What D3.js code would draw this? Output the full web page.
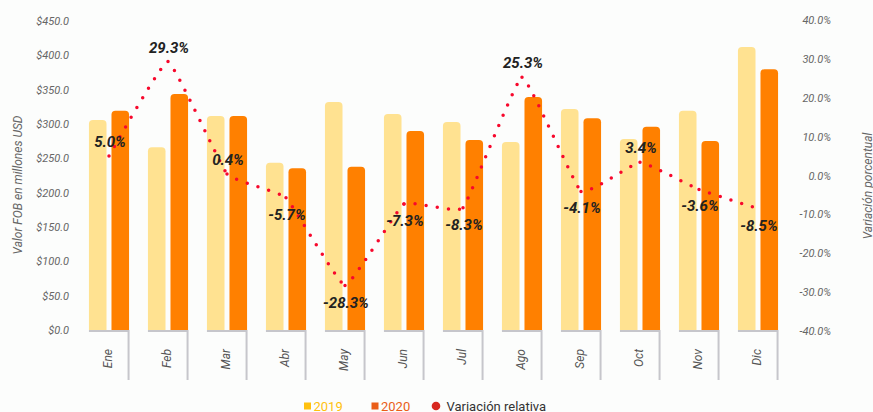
<!DOCTYPE html>
<html>
<head>
<meta charset="utf-8">
<script src="https://cdn.jsdelivr.net/npm/d3@7"></script>
<style>
  html, body { margin: 0; padding: 0; background: #fcfdfc; }
  svg { display: block; font-family: Roboto, "Noto Sans", sans-serif; }
</style>
</head>
<body>
<svg id="chart" width="873" height="412"></svg>
<script>
const months = ['Ene','Feb','Mar','Abr','May','Jun','Jul','Ago','Sep','Oct','Nov','Dic'];
const seriesNames = ['2019','2020'];
const values2019 = [305.8, 266.0, 311.7, 243.6, 332.0, 314.6, 303.0, 273.8, 321.8, 278.2, 319.4, 412.1];
const values2020 = [319.4, 343.7, 311.7, 235.5, 237.8, 289.8, 276.7, 339.3, 308.3, 296.0, 275.2, 379.7];
const variation = [5.0, 29.3, 0.4, -5.7, -28.3, -7.3, -8.3, 25.3, -4.1, 3.4, -3.6, -8.5];
const leftTicks = [0, 50, 100, 150, 200, 250, 300, 350, 400, 450];
const rightTicks = [-40, -30, -20, -10, 0, 10, 20, 30, 40];
const legendLabels = ['2019', '2020', 'Variación relativa'];

(function () {
const barColors = {'2019': '#ffe291', '2020': '#ff8000'};
const legendColors = ['#ffc10f', '#ea5e18', '#d8281f'];
const lineColor = '#f7082c';

const svg = d3.select('#chart');
const plotTop = 21, plotBottom = 330;

const x = d3.scaleBand().domain(months).range([79.5, 787.5]).paddingInner(0.32).paddingOuter(0.16);
const xs = d3.scaleBand().domain(seriesNames).range([0, x.bandwidth()]).paddingInner(0.22);
const y = d3.scaleLinear().domain([0, 450]).range([plotBottom, plotTop]);
const yR = d3.scaleLinear().domain([-40, 40]).range([plotBottom + 1, plotTop - 1]);

// left axis
const gl = svg.append('g').attr('transform', 'translate(69,0)')
  .call(d3.axisLeft(y).tickValues(leftTicks).tickSize(0).tickPadding(0).tickFormat(d => '$' + d.toFixed(1)));
gl.select('.domain').remove();
gl.selectAll('text').attr('font-size', 11).attr('font-style', 'italic').attr('fill', '#666')
  .attr('font-family', 'Roboto');

// right axis
const gr = svg.append('g').attr('transform', 'translate(831,0)')
  .call(d3.axisRight(yR).tickValues(rightTicks).tickSize(0).tickPadding(0).tickFormat(d => d.toFixed(1) + '%'));
gr.select('.domain').remove();
gr.selectAll('text').attr('text-anchor', 'end').attr('x', 0).attr('font-size', 11)
  .attr('font-style', 'italic').attr('fill', '#666').attr('font-family', 'Roboto');

// axis titles
svg.append('text').attr('transform', 'translate(17.5,185) rotate(-90)')
  .attr('text-anchor', 'middle').attr('dominant-baseline', 'central')
  .attr('font-size', 12).attr('font-style', 'italic').attr('fill', '#666')
  .text('Valor FOB en millones USD');
svg.append('text').attr('transform', 'translate(867.5,186) rotate(-90)')
  .attr('text-anchor', 'middle').attr('dominant-baseline', 'central')
  .attr('font-size', 12).attr('font-style', 'italic').attr('fill', '#666')
  .text('Variación porcentual');

// bars
function topRounded(x0, y0, w, h, r) {
  r = Math.min(r, w / 2, h);
  return `M${x0},${y0 + h}V${y0 + r}Q${x0},${y0} ${x0 + r},${y0}H${x0 + w - r}Q${x0 + w},${y0} ${x0 + w},${y0 + r}V${y0 + h}Z`;
}
const rows = months.map((m, i) => ({month: m, vals: [{s: '2019', v: values2019[i]}, {s: '2020', v: values2020[i]}]}));
const groups = svg.append('g').selectAll('g').data(rows).join('g')
  .attr('transform', d => `translate(${x(d.month)},0)`);
groups.selectAll('path').data(d => d.vals).join('path')
  .attr('d', d => topRounded(xs(d.s), y(d.v), xs.bandwidth(), y(0) - y(d.v), 4))
  .attr('fill', d => barColors[d.s]);

// category axis marks
svg.append('g').selectAll('path').data(months).join('path')
  .attr('d', m => `M${x(m)},331H${x(m) + x.bandwidth() - 0.5}V380`)
  .attr('fill', 'none').attr('stroke', '#c6c6cb').attr('stroke-width', 2);
svg.append('g').selectAll('text').data(months).join('text')
  .attr('transform', m => `translate(${x(m) + x.bandwidth() / 2 - 1},349) rotate(-90)`)
  .attr('text-anchor', 'end').attr('dominant-baseline', 'central')
  .attr('font-size', 12).attr('font-style', 'italic').attr('fill', '#555')
  .text(m => m);

// dotted variation line, drawn per segment
const pts = months.map((m, i) => [x(m) + x.bandwidth() / 2, yR(variation[i])]);
const full = d3.line().curve(d3.curveCardinal.tension(0.7))(pts);
const cmds = full.split('C');
let start = cmds[0].slice(1);
const segs = [];
for (let k = 1; k < cmds.length; k++) {
  segs.push(`M${start}C${cmds[k]}`);
  const nums = cmds[k].split(/[ ,]+/).filter(s => s.length);
  start = nums[nums.length - 2] + ',' + nums[nums.length - 1];
}
svg.append('g').selectAll('path').data(segs).join('path')
  .attr('d', d => d).attr('fill', 'none').attr('stroke', lineColor)
  .attr('stroke-width', 3.5).attr('stroke-linecap', 'round').attr('stroke-dasharray', '0 11.2');

// value labels
svg.append('g').selectAll('text').data(variation).join('text')
  .attr('x', (v, i) => pts[i][0] + 1)
  .attr('y', (v, i) => v >= 0 ? pts[i][1] - 14 : pts[i][1] + 17)
  .attr('text-anchor', 'middle').attr('dominant-baseline', 'central')
  .attr('font-size', 15).attr('font-weight', 'bold').attr('font-style', 'italic').attr('fill', '#222')
  .text(v => v.toFixed(1) + '%');

// legend
const lg = svg.append('g');
lg.append('rect').attr('x', 304).attr('y', 402.5).attr('width', 7).attr('height', 7).attr('fill', legendColors[0]);
lg.append('text').attr('x', 313.5).attr('y', 410.5).attr('font-size', 13).attr('fill', legendColors[0]).text(legendLabels[0]);
lg.append('rect').attr('x', 371.5).attr('y', 402.5).attr('width', 7).attr('height', 7).attr('fill', legendColors[1]);
lg.append('text').attr('x', 381).attr('y', 410.5).attr('font-size', 13).attr('fill', legendColors[1]).text(legendLabels[1]);
lg.append('circle').attr('cx', 436).attr('cy', 406).attr('r', 4.3).attr('fill', legendColors[2]);
lg.append('text').attr('x', 446.5).attr('y', 410.5).attr('font-size', 13).attr('fill', '#333').text(legendLabels[2]);
})();
</script>
</body>
</html>
